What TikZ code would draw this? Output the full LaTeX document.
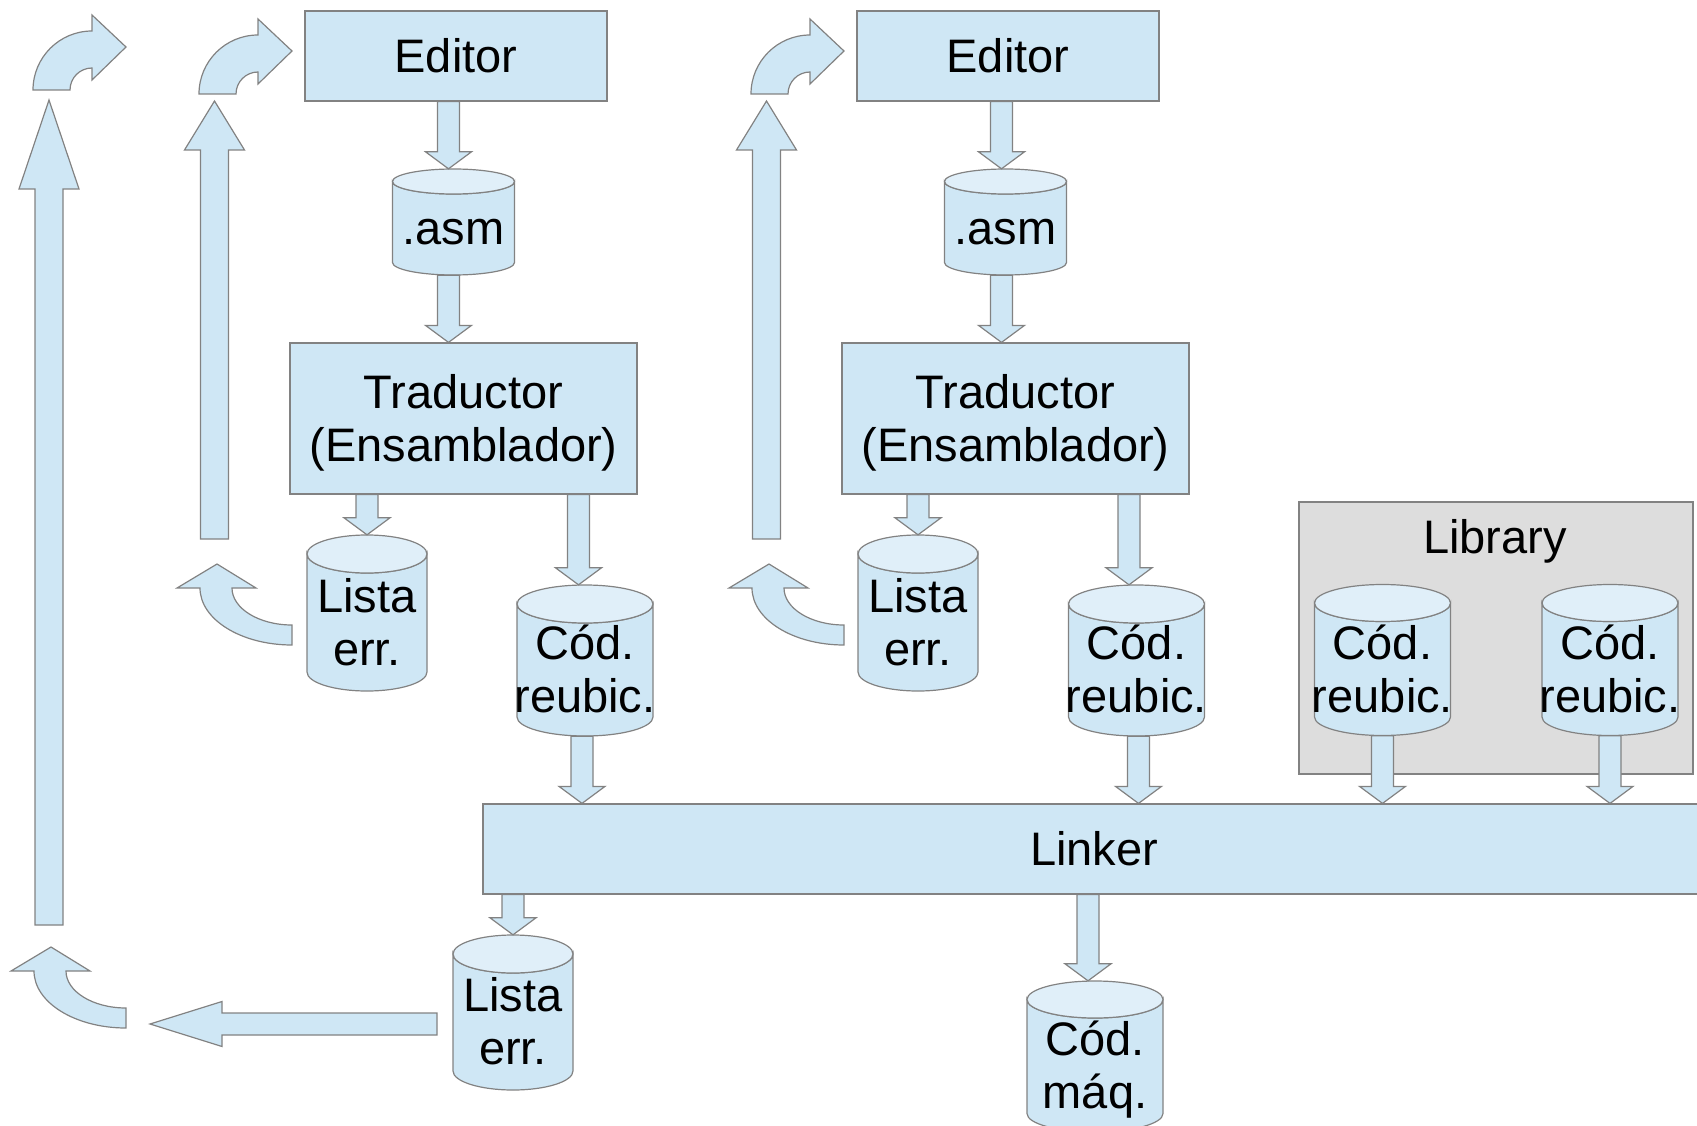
\documentclass[tikz,border=0pt]{standalone}
\usepackage{fontspec}
\setmainfont{Liberation Sans}
\usetikzlibrary{calc}

\definecolor{paleblue}{RGB}{207,231,245}
\definecolor{paletop}{RGB}{224,239,249}
\definecolor{libgray}{RGB}{221,221,221}
\definecolor{edgegray}{RGB}{130,130,130}

% one text line as tall as the slide's line box
\newcommand{\lb}{\rule[-10pt]{0pt}{52.5pt}}

% block arrow: tail, tip, half shaft, half head, head length
\newcommand{\fatarrow}[5]{%
  \coordinate (fahead) at ($(#2)!#5!(#1)$);
  \draw[fat] ($(#1)!#3!90:(#2)$) -- ($(fahead)!#3!90:(#2)$) -- ($(fahead)!#4!90:(#2)$) -- (#2)
    -- ($(fahead)!#4!-90:(#2)$) -- ($(fahead)!#3!-90:(#2)$) -- ($(#1)!#3!-90:(#2)$) -- cycle;
}
% small down arrow, optional sideways shift
\newcommand{\flowto}[3][0]{%
  \coordinate (fatail) at ($(#2)+(#1,0)$);
  \coordinate (fatip) at ($(#3)+(#1,0)$);
  \fatarrow{fatail}{fatip}{11pt}{23pt}{17pt}
}

% data store: name, x, y, width, height, ellipse radius, text
\newcommand{\drum}[7]{%
  \draw[fat] ({#2-#4/2},{#3-#5/2+#6}) -- ({#2-#4/2},{#3+#5/2-#6})
    arc[start angle=180, end angle=0, x radius={#4/2}, y radius=#6]
    -- ({#2+#4/2},{#3-#5/2+#6})
    arc[start angle=0, end angle=180, x radius={#4/2}, y radius=#6] -- cycle;
  \draw[fat, fill=paletop] (#2,{#3-#5/2+#6}) ellipse[x radius={#4/2}, y radius=#6];
  \node[inner sep=0pt, minimum width=#4pt, minimum height=#5pt] (#1) at (#2,#3) {};
  \node[inner sep=0pt, align=center] (#1-text) at (#2,{#3+#6/2}) {#7};
}

\begin{document}
\begin{tikzpicture}[x=1pt, y=-1pt,
    every node/.style={font=\fontsize{47}{53}\selectfont},
    box/.style={draw=edgegray, fill=paleblue, line width=1.2pt, inner sep=0pt, align=center},
    fat/.style={draw=edgegray, fill=paleblue, line width=1.2pt},
    bendright/.pic={\draw[fat] (-59,0) arc[start angle=180, end angle=270, radius=59] -- (0,-75) -- (34,-43)
        -- (0,-10) -- (0,-22) arc[start angle=270, end angle=180, radius=22] -- cycle;},
    bendup/.pic={\draw[fat] (0,57) arc[start angle=90, end angle=180, x radius=92, y radius=57] -- (-115,0)
        -- (-75,-24) -- (-36,0) -- (-60,0) arc[start angle=180, end angle=90, x radius=60, y radius=37] -- cycle;}]

\useasboundingbox (0,0) rectangle (1697,1126);

\node[box, minimum width=302pt, minimum height=90pt] (ed1) at (456,56) {\lb Editor};
\node[box, minimum width=302pt, minimum height=90pt] (ed2) at (1008,56) {\lb Editor};
\drum{asm1}{453.5}{222}{122}{106}{12.5}{\lb .asm}
\drum{asm2}{1005.5}{222}{122}{106}{12.5}{\lb .asm}
\node[box, minimum width=347pt, minimum height=151pt] (tr1) at (463.5,418.5) {\lb Traductor\\\lb (Ensamblador)};
\node[box, minimum width=347pt, minimum height=151pt] (tr2) at (1015.5,418.5) {\lb Traductor\\\lb (Ensamblador)};
\drum{le1}{367}{613}{120}{156}{19}{\lb Lista\\\lb err.}
\drum{le2}{918}{613}{120}{156}{19}{\lb Lista\\\lb err.}
\drum{cr1}{585}{660.5}{136}{151}{19}{\lb Cód.\\\lb reubic.}
\drum{cr2}{1136.5}{660.5}{136}{151}{19}{\lb Cód.\\\lb reubic.}

\node[draw=edgegray, fill=libgray, line width=1.2pt, minimum width=394pt, minimum height=272pt] (lib) at (1496,638) {};
\node[anchor=base] (libname) at (1495,553) {Library};
\drum{cr3}{1382.5}{660}{136}{151}{18.5}{\lb Cód.\\\lb reubic.}
\drum{cr4}{1610}{660}{136}{151}{18.5}{\lb Cód.\\\lb reubic.}

\node[box, minimum width=1222pt, minimum height=90pt] (lk) at (1094,849) {\lb Linker};
\drum{le3}{513}{1012.5}{120}{155}{19}{\lb Lista\\\lb err.}
\drum{cm}{1095}{1056.5}{136}{151}{18.5}{\lb Cód.\\\lb máq.}

\flowto[-5]{asm1.north |- ed1.south}{asm1.north}
\flowto[-4]{asm2.north |- ed2.south}{asm2.north}
\flowto[-5]{asm1.south}{asm1.south |- tr1.north}
\flowto[-4]{asm2.south}{asm2.south |- tr2.north}
\flowto{le1.north |- tr1.south}{le1.north}
\flowto{le2.north |- tr2.south}{le2.north}
\flowto[-6.5]{cr1.north |- tr1.south}{cr1.north}
\flowto[-7.5]{cr2.north |- tr2.south}{cr2.north}
\flowto[-3]{cr1.south}{cr1.south |- lk.north}
\flowto[2]{cr2.south}{cr2.south |- lk.north}
\flowto{cr3.south}{cr3.south |- lk.north}
\flowto{cr4.south}{cr4.south |- lk.north}
\flowto{le3.north |- lk.south}{le3.north}
\flowto[-7]{cm.north |- lk.south}{cm.north}

\coordinate (ret1a) at (49,925);
\coordinate (ret1b) at (49,100);
\coordinate (ret2a) at (214.5,539);
\coordinate (ret2b) at (214.5,101);
\coordinate (ret3a) at (766.5,539);
\coordinate (ret3b) at (766.5,101);
\coordinate (backa) at (437,1024);
\coordinate (backb) at (150,1024);
\fatarrow{ret1a}{ret1b}{14pt}{30pt}{89pt}
\fatarrow{ret2a}{ret2b}{14pt}{30pt}{49pt}
\fatarrow{ret3a}{ret3b}{14pt}{30pt}{49pt}
\fatarrow{backa}{backb}{11pt}{22.5pt}{72pt}

\pic at (92,90) {bendright};
\pic at (258,94) {bendright};
\pic at (810,94) {bendright};
\pic at (292,588) {bendup};
\pic at (844,588) {bendup};
\pic at (126,971) {bendup};

\end{tikzpicture}
\end{document}
